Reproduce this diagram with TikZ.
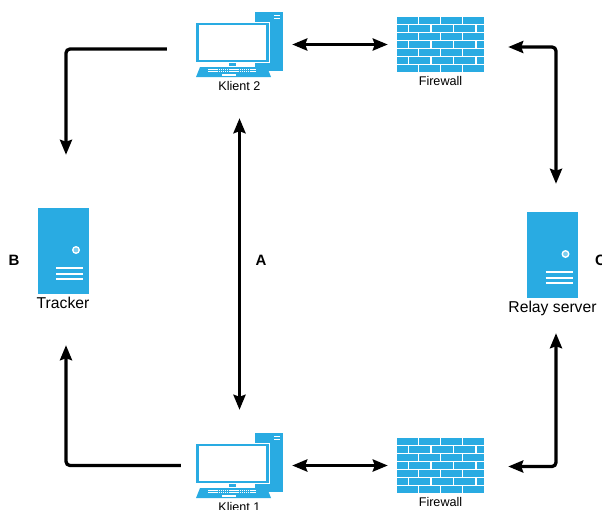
\documentclass[tikz,border=0pt]{standalone}
\usepackage{fontspec}
\setmainfont{Liberation Sans}
\usetikzlibrary{arrows.meta, positioning}
\definecolor{iconblue}{HTML}{29ABE2}

\tikzset{
  pics/server/.style={code={
    \node[serverbox] (-box) {};
    \fill[white] (13,-1) circle (4);
    \fill[iconblue!60!white] (13,-1) circle (2.4);
    \foreach \yy in {17,23,28}
      \draw[white, line width=1.8pt] (-7,\yy) -- (20,\yy);
  }},
  pics/firewall/.style={code={
    \node[firewallbox] (-box) {};
    % mortar lines
    \foreach \row in {1,...,6}
      \draw[white, line width=1.2pt] (-43.5,{-27.5+\row*7.857}) -- (43.5,{-27.5+\row*7.857});
    \foreach \row in {0,2,4,6}
      \foreach \xx in {-21.75,0,21.75}
        \draw[white, line width=1.4pt] (\xx,{-27.5+\row*7.857}) -- (\xx,{-27.5+(\row+1)*7.857});
    \foreach \row in {1,3,5}
      \foreach \xx in {-32,-9.5,13,35.5}
        \draw[white, line width=1.4pt] (\xx,{-27.5+\row*7.857}) -- (\xx,{-27.5+(\row+1)*7.857});
  }},
  pics/klient/.style={code={
    \node[klientbox] (-box) {};
    % tower
    \fill[iconblue] (15.5,-32.5) rectangle (43.5,26.5);
    \foreach \yy in {-29,-26.5}
      \draw[white, line width=.9pt] (34.5,\yy) -- (40.5,\yy);
    % monitor
    \fill[white] (-43.5,-23) rectangle (30.5,18.5);
    \fill[iconblue] (-43.5,-22) rectangle (29.5,17.5);
    \fill[white] (-40.5,-19.5) rectangle (26,15.5);
    \fill[iconblue] (-10.5,18.5) rectangle (-3.5,21.5);
    % keyboard
    \fill[iconblue] (-39.5,22.5) -- (27.5,22.5) -- (31.5,32.5) -- (-43.5,32.5) -- cycle;
    \foreach \yy in {24.5,26.5}
      \draw[white, line width=.8pt, dash pattern=on 1.5pt off .6pt] (-31.5,\yy) -- (16.5,\yy);
    \fill[white] (-17.5,29.5) rectangle (-3.5,31.5);
  }}
}

\begin{document}
\begin{tikzpicture}[
  x=1pt, y=-1pt,
  >={Stealth[length=15pt,width=12pt,inset=2pt]},
  serverbox/.style={rectangle, fill=iconblue, minimum width=51pt, minimum height=86pt, inner sep=0pt},
  firewallbox/.style={rectangle, fill=iconblue, minimum width=87pt, minimum height=55pt, inner sep=0pt},
  klientbox/.style={rectangle, minimum width=87pt, minimum height=65pt, inner sep=0pt},
  iconlab/.style={font=\fontsize{15.7}{16}\selectfont, inner sep=0pt},
  smalllab/.style={font=\fontsize{12.6}{13}\selectfont, inner sep=0pt},
  letter/.style={font=\fontsize{15}{16}\selectfont\bfseries, inner sep=0pt},
  arrow/.style={line width=3.3pt, rounded corners=4pt}
]
\useasboundingbox (0,0) rectangle (602,509);

% Icons
\pic (tracker) at (63,251) {server};
\pic (relay) at (552.5,255) {server};
\pic (fwtop) at (440.5,44.5) {firewall};
\pic (fwbottom) at (440.5,465.5) {firewall};
\pic (klienttwo) at (239.5,44.5) {klient};
\pic (klientone) at (239.5,465.5) {klient};

% Labels
\node[iconlab, below=3pt of tracker-box] (trackerlab) {Tracker};
\node[iconlab, below=3pt of relay-box] (relaylab) {Relay server};
\node[smalllab, below=3.5pt of fwtop-box] (fwtoplab) {Firewall};
\node[smalllab, below=3.5pt of fwbottom-box] (fwbottomlab) {Firewall};
\node[smalllab, below=3.5pt of klienttwo-box] (klienttwolab) {Klient 2};
\node[smalllab, below=3.5pt of klientone-box] (klientonelab) {Klient 1};
\node[letter] (labB) at (14,260) {B};
\node[letter] (labA) at (261,260) {A};
\node[letter] (labC) at (600.5,260) {C};

% Arrows
\draw[arrow, ->, shorten <=29pt, shorten >=53pt]
  ([yshift=-4.5pt]klienttwo-box.west) -| ([xshift=3pt]tracker-box.north);
\draw[arrow, ->, shorten <=15pt, shorten >=51pt]
  (klientone-box.west) -| ([xshift=3pt]tracker-box.south);
\draw[arrow, <->, shorten <=9pt, shorten >=9pt] (klienttwo-box.east) -- (fwtop-box.west);
\draw[arrow, <->, shorten <=9pt, shorten >=9pt] (klientone-box.east) -- (fwbottom-box.west);
\draw[arrow, <->, shorten <=41pt, shorten >=23pt] (klienttwo-box.south) -- (klientone-box.north);
\draw[arrow, <->, shorten <=24pt, shorten >=28pt]
  ([yshift=-2.5pt]fwtop-box.east) -| ([xshift=3.5pt]relay-box.north);
\draw[arrow, <->, shorten <=24pt, shorten >=35pt]
  ([yshift=-1pt]fwbottom-box.east) -| ([xshift=3.5pt]relay-box.south);
\end{tikzpicture}
\end{document}
